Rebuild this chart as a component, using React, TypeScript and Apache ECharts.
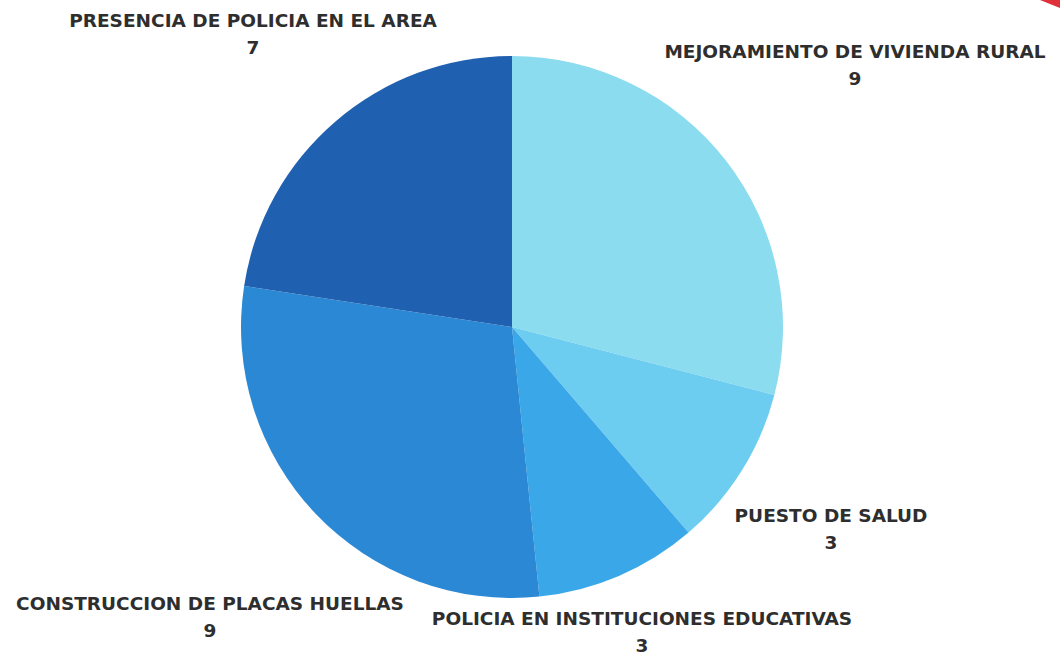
import React, { useEffect, useRef } from "react";
import * as echarts from "echarts";

const categories = [
  "MEJORAMIENTO DE VIVIENDA RURAL",
  "PUESTO DE SALUD",
  "POLICIA EN INSTITUCIONES EDUCATIVAS",
  "CONSTRUCCION DE PLACAS HUELLAS",
  "PRESENCIA DE POLICIA EN EL AREA",
];
const values = [9, 3, 3, 9, 7];
const colors = ["#8cdcef", "#6ccdf0", "#3aa7e9", "#2b88d5", "#2060b0"];
// label block centres (layout only)
const labelPos: [number, number][] = [
  [855, 65],
  [831, 529],
  [642, 632],
  [210, 617],
  [253, 34],
];

export default function App() {
  const ref = useRef<HTMLDivElement>(null);
  useEffect(() => {
    document.body.style.margin = "0";
    const chart = echarts.init(ref.current!, null, { renderer: "svg" });
    chart.setOption({
      animation: false,
      backgroundColor: "#ffffff",
      graphic: [
        {
          type: "polygon",
          shape: { points: [[1040, 0], [1060, 0], [1060, 8]] },
          style: { fill: "#e0303a" },
        },
      ],
      series: [
        {
          type: "pie",
          center: [512, 327],
          radius: 271,
          startAngle: 90,
          clockwise: true,
          avoidLabelOverlap: false,
          itemStyle: { borderWidth: 0 },
          emphasis: { disabled: true },
          label: {
            show: true,
            position: "outside",
            formatter: "{b}\n{c}",
            fontFamily: "DejaVu Sans",
            fontWeight: "bold",
            fontSize: 18.5,
            lineHeight: 27,
            color: "#2e2e2e",
            align: "center",
          },
          labelLine: { show: false },
          labelLayout: (params: any) => {
            const p = labelPos[params.dataIndex];
            return { x: p[0], y: p[1], align: "center", verticalAlign: "middle" };
          },
          data: categories.map((name, i) => ({
            name,
            value: values[i],
            itemStyle: { color: colors[i] },
          })),
        },
      ],
    });
    return () => chart.dispose();
  }, []);
  return <div ref={ref} style={{ width: 1060, height: 656 }} />;
}
